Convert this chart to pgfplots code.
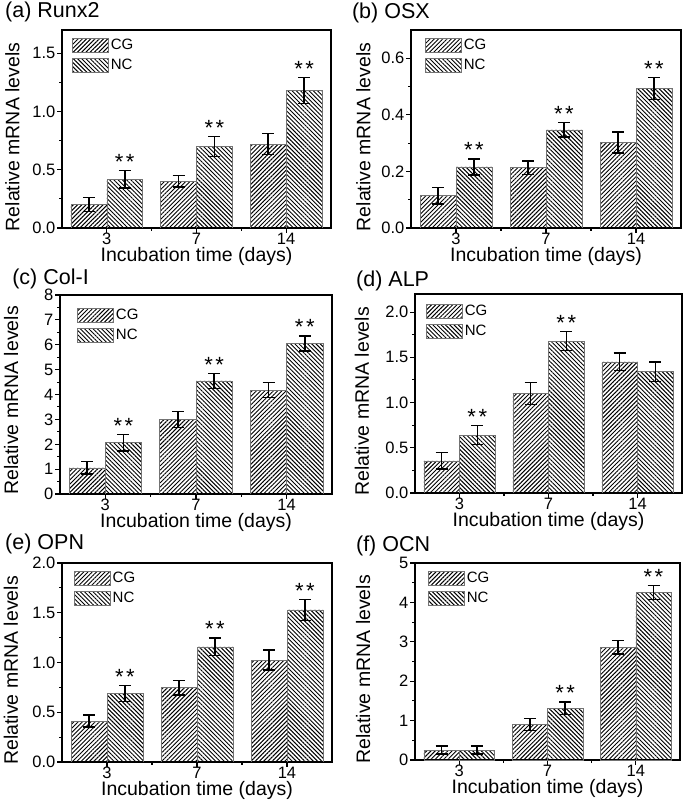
\documentclass[border=0pt]{standalone}
\usepackage{pgfplots}
\pgfplotsset{compat=1.18}
\usepackage{fontspec}
\setmainfont{Liberation Sans}
\usetikzlibrary{patterns.meta}
\pgfplotsset{
  panel/.style={
    scale only axis, anchor=south west,
    xmin=-0.5, xmax=2.5, ymin=0,
    xtick={0,1,2}, xticklabels={3,7,14}, minor xtick={0.5,1.5},
    minor y tick num=1,
    tick align=outside, xtick pos=bottom, ytick pos=left,
    major tick length=5pt, minor tick length=3pt,
    axis line style={line width=1.1pt},
    every tick/.style={black, line width=1.1pt},
    /pgf/number format/assume math mode=true,
    tick label style={font=\fontsize{16.5}{16.5}\selectfont},
    xticklabel style={inner sep=0pt},
    yticklabel style={inner sep=1.5pt},
    label style={font=\fontsize{19.5}{19.5}\selectfont},
    xlabel={Incubation time (days)}, ylabel={Relative mRNA levels},
    xlabel style={at={(axis description cs:0.5,-0.142)}, anchor=center, inner sep=0pt},
    every axis title shift=0pt,
    title style={font=\fontsize{21.5}{21.5}\selectfont, anchor=west, inner sep=0pt},
    legend style={draw=none, fill=none, inner sep=0pt, row sep=4pt,
      font=\fontsize{15}{15}\selectfont, nodes={inner sep=2pt},
      /tikz/every even column/.append style={column sep=3pt}},
    legend cell align=left,
  },
  dec/.style={yticklabel style={/pgf/number format/.cd, fixed, fixed zerofill, precision=1}},
  hbar/.style={ybar, bar width=0.4, bar shift=0pt, draw=black!55, line width=0.6pt,
    pattern={Lines[angle=#1,distance=3.0pt,line width=0.95pt]}, pattern color=black,
    legend image code/.code={\draw[##1] (0pt,-7pt) rectangle (36pt,7pt);},
    error bars/.cd, y dir=both, y explicit,
    error mark=-,
    error bar style={line width=1.5pt, black, solid},
    error mark options={rotate=90, line width=1.5pt, mark size=6pt, black}},
  cgbar/.style={hbar=45},
  ncbar/.style={hbar=-45},
  stars/.style={draw=none, forget plot, nodes near coords={*\kern2.5pt*},
    every node near coord/.append style={anchor=south, inner sep=1pt, yshift=0pt,
      font=\fontsize{22}{22}\selectfont, black}},
}
\begin{document}
\begin{tikzpicture}
\useasboundingbox (0pt,0pt) rectangle (685pt,800pt);

% (a) Runx2
\begin{axis}[panel, dec, at={(62pt,572pt)}, width=269pt, height=198pt,
  ymax=1.7, ytick={0,0.5,1,1.5},
  title={(a) Runx2}, title style={at={(axis description cs:-0.212,1.093)}},
  ylabel style={at={(axis description cs:-0.184,0.46)}, anchor=center},
  legend style={at={(0.037,0.965)}, anchor=north west}]
\addplot[cgbar] coordinates {(-0.2,0.20) +- (0,0.06) (0.8,0.40) +- (0,0.05) (1.8,0.72) +- (0,0.09)};
\addplot[ncbar] coordinates {(0.2,0.42) +- (0,0.075) (1.2,0.70) +- (0,0.085) (2.2,1.18) +- (0,0.11)};
\addplot[stars] coordinates {(0.2,0.495) (1.2,0.785) (2.2,1.29)};
\legend{CG,NC}
\end{axis}

% (b) OSX
\begin{axis}[panel, dec, at={(411pt,572pt)}, width=270pt, height=198pt,
  ymax=0.7, ytick={0,0.2,0.4,0.6},
  title={(b) OSX}, title style={at={(axis description cs:-0.219,1.088)}},
  ylabel style={at={(axis description cs:-0.176,0.46)}, anchor=center},
  legend style={at={(0.052,0.965)}, anchor=north west}]
\addplot[cgbar] coordinates {(-0.2,0.114) +- (0,0.03) (0.8,0.213) +- (0,0.023) (1.8,0.302) +- (0,0.037)};
\addplot[ncbar] coordinates {(0.2,0.216) +- (0,0.028) (1.2,0.347) +- (0,0.026) (2.2,0.493) +- (0,0.039)};
\addplot[stars] coordinates {(0.2,0.244) (1.2,0.373) (2.2,0.532)};
\legend{CG,NC}
\end{axis}

% (c) Col-I
\begin{axis}[panel, at={(60pt,306pt)}, width=272pt, height=199pt,
  ymax=8, ytick={0,1,2,3,4,5,6,7,8},
  title={(c) Col-I}, title style={at={(axis description cs:-0.176,1.08)}},
  ylabel style={at={(axis description cs:-0.18,0.47)}, anchor=center},
  legend style={at={(0.063,0.94)}, anchor=north west}]
\addplot[cgbar] coordinates {(-0.2,1.05) +- (0,0.25) (0.8,2.99) +- (0,0.32) (1.8,4.18) +- (0,0.30)};
\addplot[ncbar] coordinates {(0.2,2.06) +- (0,0.33) (1.2,4.55) +- (0,0.30) (2.2,6.05) +- (0,0.31)};
\addplot[stars] coordinates {(0.2,2.39) (1.2,4.85) (2.2,6.36)};
\legend{CG,NC}
\end{axis}

% (d) ALP
\begin{axis}[panel, dec, at={(415pt,307pt)}, width=267pt, height=199pt,
  ymax=2.2, ytick={0,0.5,1,1.5,2},
  title={(d) ALP}, title style={at={(axis description cs:-0.221,1.065)}},
  ylabel style={at={(axis description cs:-0.199,0.46)}, anchor=center},
  legend style={at={(0.041,0.955)}, anchor=north west}]
\addplot[cgbar] coordinates {(-0.2,0.355) +- (0,0.09) (0.8,1.10) +- (0,0.12) (1.8,1.45) +- (0,0.096)};
\addplot[ncbar] coordinates {(0.2,0.64) +- (0,0.105) (1.2,1.68) +- (0,0.105) (2.2,1.34) +- (0,0.11)};
\addplot[stars] coordinates {(0.2,0.745) (1.2,1.785)};
\legend{CG,NC}
\end{axis}

% (e) OPN
\begin{axis}[panel, dec, at={(62pt,38pt)}, width=270pt, height=199pt,
  ymax=2.0, ytick={0,0.5,1,1.5,2},
  title={(e) OPN}, title style={at={(axis description cs:-0.211,1.095)}},
  ylabel style={at={(axis description cs:-0.189,0.46)}, anchor=center},
  legend style={at={(0.044,0.965)}, anchor=north west}]
\addplot[cgbar] coordinates {(-0.2,0.41) +- (0,0.06) (0.8,0.747) +- (0,0.073) (1.8,1.025) +- (0,0.099)};
\addplot[ncbar] coordinates {(0.2,0.687) +- (0,0.08) (1.2,1.157) +- (0,0.089) (2.2,1.528) +- (0,0.105)};
\addplot[stars] coordinates {(0.2,0.767) (1.2,1.246) (2.2,1.633)};
\legend{CG,NC}
\end{axis}

% (f) OCN
\begin{axis}[panel, at={(415pt,40pt)}, width=265pt, height=197pt,
  ymax=5, ytick={0,1,2,3,4,5},
  title={(f) OCN}, title style={at={(axis description cs:-0.223,1.086)}},
  ylabel style={at={(axis description cs:-0.196,0.46)}, anchor=center},
  legend style={at={(0.049,0.965)}, anchor=north west}]
\addplot[cgbar] coordinates {(-0.2,0.25) +- (0,0.10) (0.8,0.90) +- (0,0.155) (1.8,2.865) +- (0,0.17)};
\addplot[ncbar] coordinates {(0.2,0.25) +- (0,0.10) (1.2,1.31) +- (0,0.157) (2.2,4.25) +- (0,0.18)};
\addplot[stars] coordinates {(1.2,1.467) (2.2,4.43)};
\legend{CG,NC}
\end{axis}
\end{tikzpicture}
\end{document}
